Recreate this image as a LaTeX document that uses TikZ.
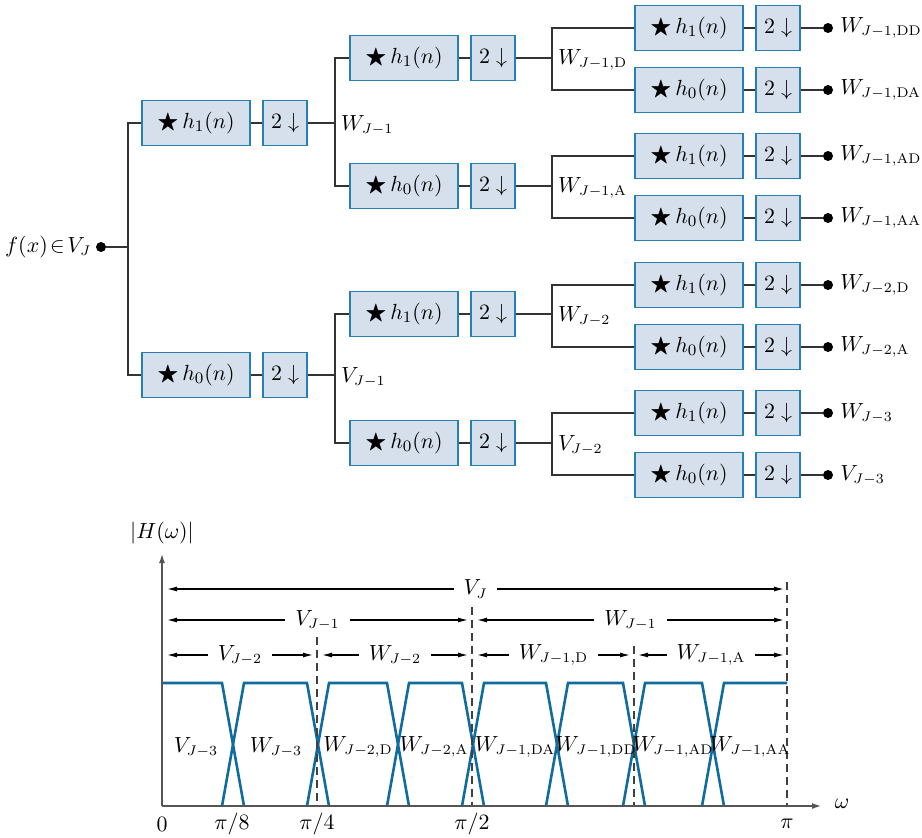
\documentclass[tikz,border=0pt]{standalone}
\usepackage{amssymb}
\usetikzlibrary{arrows.meta}
\definecolor{boxfill}{RGB}{214,224,236}
\definecolor{boxline}{RGB}{38,128,178}
\definecolor{bandblue}{RGB}{16,108,158}
\definecolor{axisgray}{RGB}{85,85,85}

\begin{document}
\begin{tikzpicture}[x=0.5pt, y=-0.5pt, font=\fontsize{10.6}{13}\selectfont,
		filt/.style = {rectangle, draw=boxline, fill=boxfill, line width=0.8pt, minimum width=54pt, minimum height=22.5pt, inner sep=0pt, font=\fontsize{11.2}{13}\selectfont},
		down/.style = {filt, minimum width=22pt},
		outdot/.style = {circle, fill=black, minimum size=5pt, inner sep=0pt},
		con/.style = {line width=0.6pt, draw=black!80},
		axis/.style = {line width=1pt, draw=axisgray, -{Latex[length=5pt,width=3pt]}},
		dim/.style = {line width=0.6pt, {Latex[length=5pt,width=2.5pt]}-{Latex[length=5pt,width=2.5pt]}},
		gap/.style = {fill=white, inner xsep=5pt, inner ysep=1pt},
		guide/.style = {line width=0.6pt, draw=black!75, dash pattern=on 4pt off 2.5pt},
		band/.style = {line width=1.3pt, draw=bandblue, line join=miter}
		]
	\useasboundingbox (0,0) rectangle (922,837);

	%Nodes
	\node[outdot]	(in)	at	(101,247)	{};
	\node[left, inner xsep=2pt]	(inl)	at	(in.west)	{$f(x)\!\in\! V_J$};
	\coordinate	(c)	at	(128,247);

	\node[filt]	(h1)	at	(196,123)	{$\bigstar\, h_1(n)$};
	\node[down]	(d1)	at	(285,123)	{$2\downarrow$};
	\node[filt]	(h0)	at	(196,375)	{$\bigstar\, h_0(n)$};
	\node[down]	(d0)	at	(285,375)	{$2\downarrow$};
	\coordinate	(c1)	at	(335,123);
	\coordinate	(c0)	at	(335,375);
	\node[right]	(l1)	at	(334,125)	{$W_{J-1}$};
	\node[right]	(l0)	at	(334,377)	{$V_{J-1}$};

	\node[filt]	(h11)	at	(404,58)	{$\bigstar\, h_1(n)$};
	\node[down]	(d11)	at	(493,58)	{$2\downarrow$};
	\node[filt]	(h10)	at	(404,186)	{$\bigstar\, h_0(n)$};
	\node[down]	(d10)	at	(493,186)	{$2\downarrow$};
	\node[filt]	(h01)	at	(404,314)	{$\bigstar\, h_1(n)$};
	\node[down]	(d01)	at	(493,314)	{$2\downarrow$};
	\node[filt]	(h00)	at	(404,443)	{$\bigstar\, h_0(n)$};
	\node[down]	(d00)	at	(493,443)	{$2\downarrow$};
	\coordinate	(c11)	at	(552,58);
	\coordinate	(c10)	at	(552,186);
	\coordinate	(c01)	at	(552,314);
	\coordinate	(c00)	at	(552,443);
	\node[right]	(l11)	at	(551,60)	{$W_{J-1,\mathrm{D}}$};
	\node[right]	(l10)	at	(551,188)	{$W_{J-1,\mathrm{A}}$};
	\node[right]	(l01)	at	(551,316)	{$W_{J-2}$};
	\node[right]	(l00)	at	(551,445)	{$V_{J-2}$};

	\node[filt]	(h111)	at	(689,28)	{$\bigstar\, h_1(n)$};
	\node[down]	(d111)	at	(778,28)	{$2\downarrow$};
	\node[outdot]	(o111)	at	(828,28)	{};
	\node[right]	at	(o111.east)	{$W_{J-1,\mathrm{DD}}$};
	\node[filt]	(h110)	at	(689,90)	{$\bigstar\, h_0(n)$};
	\node[down]	(d110)	at	(778,90)	{$2\downarrow$};
	\node[outdot]	(o110)	at	(828,90)	{};
	\node[right]	at	(o110.east)	{$W_{J-1,\mathrm{DA}}$};
	\node[filt]	(h101)	at	(689,156)	{$\bigstar\, h_1(n)$};
	\node[down]	(d101)	at	(778,156)	{$2\downarrow$};
	\node[outdot]	(o101)	at	(828,156)	{};
	\node[right]	at	(o101.east)	{$W_{J-1,\mathrm{AD}}$};
	\node[filt]	(h100)	at	(689,218)	{$\bigstar\, h_0(n)$};
	\node[down]	(d100)	at	(778,218)	{$2\downarrow$};
	\node[outdot]	(o100)	at	(828,218)	{};
	\node[right]	at	(o100.east)	{$W_{J-1,\mathrm{AA}}$};
	\node[filt]	(h011)	at	(689,285)	{$\bigstar\, h_1(n)$};
	\node[down]	(d011)	at	(778,285)	{$2\downarrow$};
	\node[outdot]	(o011)	at	(828,285)	{};
	\node[right]	at	(o011.east)	{$W_{J-2,\mathrm{D}}$};
	\node[filt]	(h010)	at	(689,347)	{$\bigstar\, h_0(n)$};
	\node[down]	(d010)	at	(778,347)	{$2\downarrow$};
	\node[outdot]	(o010)	at	(828,347)	{};
	\node[right]	at	(o010.east)	{$W_{J-2,\mathrm{A}}$};
	\node[filt]	(h001)	at	(689,413)	{$\bigstar\, h_1(n)$};
	\node[down]	(d001)	at	(778,413)	{$2\downarrow$};
	\node[outdot]	(o001)	at	(828,413)	{};
	\node[right]	at	(o001.east)	{$W_{J-3}$};
	\node[filt]	(h000)	at	(689,475)	{$\bigstar\, h_0(n)$};
	\node[down]	(d000)	at	(778,475)	{$2\downarrow$};
	\node[outdot]	(o000)	at	(828,475)	{};
	\node[right]	at	(o000.east)	{$V_{J-3}$};

	%Lines
	\draw[con]	(in) -- (c) |- (h1);
	\draw[con]	(c) |- (h0);
	\draw[con]	(h1) -- (d1) -- (c1) |- (h11);
	\draw[con]	(c1) |- (h10);
	\draw[con]	(h0) -- (d0) -- (c0) |- (h01);
	\draw[con]	(c0) |- (h00);
	\draw[con]	(h11) -- (d11) -- (c11) |- (h111);
	\draw[con]	(c11) |- (h110);
	\draw[con]	(h10) -- (d10) -- (c10) |- (h101);
	\draw[con]	(c10) |- (h100);
	\draw[con]	(h01) -- (d01) -- (c01) |- (h011);
	\draw[con]	(c01) |- (h010);
	\draw[con]	(h00) -- (d00) -- (c00) |- (h001);
	\draw[con]	(c00) |- (h000);
	\draw[con]	(h111) -- (d111) -- (o111);
	\draw[con]	(h110) -- (d110) -- (o110);
	\draw[con]	(h101) -- (d101) -- (o101);
	\draw[con]	(h100) -- (d100) -- (o100);
	\draw[con]	(h011) -- (d011) -- (o011);
	\draw[con]	(h010) -- (d010) -- (o010);
	\draw[con]	(h001) -- (d001) -- (o001);
	\draw[con]	(h000) -- (d000) -- (o000);

	%Spectrum
	\draw[band]	(162,683) -- (222,683) -- (244,806);
	\draw[band]	(222,806) -- (244,683) -- (307,683) -- (329,806);
	\draw[band]	(307,806) -- (329,683) -- (387,683) -- (409,806);
	\draw[band]	(387,806) -- (409,683) -- (462,683) -- (484,806);
	\draw[band]	(462,806) -- (484,683) -- (546,683) -- (568,806);
	\draw[band]	(546,806) -- (568,683) -- (623,683) -- (645,806);
	\draw[band]	(623,806) -- (645,683) -- (702,683) -- (724,806);
	\draw[band]	(702,806) -- (724,683) -- (787,683);

	\draw[guide]	(317,637) -- (317,806);
	\draw[guide]	(472,607) -- (472,806);
	\draw[guide]	(634,646) -- (634,806);
	\draw[guide]	(787,582) -- (787,806);

	\draw[axis]	(162,806) -- (162,553);
	\draw[axis]	(162,806) -- (822,806);
	\node	(hw)	at	(162,533)	{$\left|H(\omega)\right|$};
	\node	(om)	at	(842,804)	{$\omega$};
	\node	at	(162,824)	{$0$};
	\node	at	(232,824)	{$\pi/8$};
	\node	at	(317,824)	{$\pi/4$};
	\node	at	(472,824)	{$\pi/2$};
	\node	at	(787,824)	{$\pi$};

	\draw[dim]	(167,589) -- node[gap] {$V_J$} (784,589);
	\draw[dim]	(167,620) -- node[gap] {$V_{J-1}$} (468,620);
	\draw[dim]	(477,620) -- node[gap] {$W_{J-1}$} (784,620);
	\draw[dim]	(167,655) -- node[gap] {$V_{J-2}$} (313,655);
	\draw[dim]	(322,655) -- node[gap] {$W_{J-2}$} (468,655);
	\draw[dim]	(477,655) -- node[gap] {$W_{J-1,\mathrm{D}}$} (630,655);
	\draw[dim]	(638,655) -- node[gap] {$W_{J-1,\mathrm{A}}$} (784,655);

	\node	at	(196,747)	{$V_{J-3}$};
	\node	at	(276,747)	{$W_{J-3}$};
	\node	at	(358,747)	{$W_{J-2,\mathrm{D}}$};
	\node	at	(434,747)	{$W_{J-2,\mathrm{A}}$};
	\node	at	(515,747)	{$W_{J-1,\mathrm{DA}}$};
	\node	at	(596,747)	{$W_{J-1,\mathrm{DD}}$};
	\node	at	(673,747)	{$W_{J-1,\mathrm{AD}}$};
	\node	at	(750,747)	{$W_{J-1,\mathrm{AA}}$};
\end{tikzpicture}
\end{document}
